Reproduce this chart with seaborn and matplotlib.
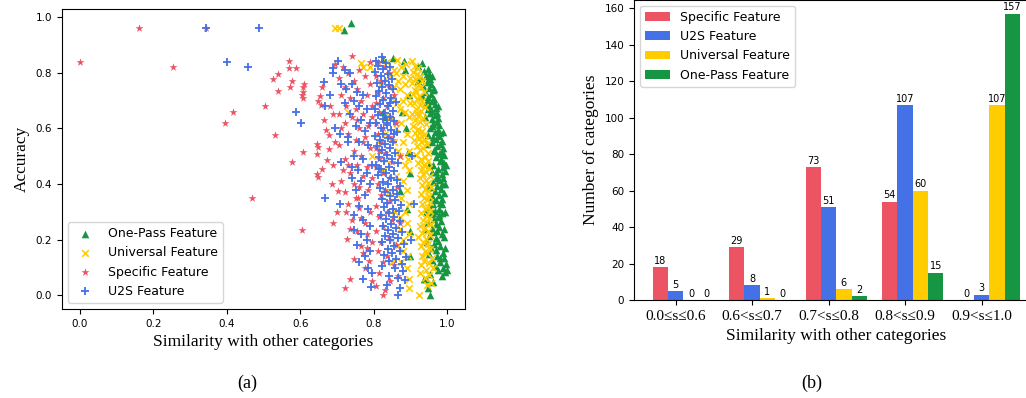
import matplotlib
matplotlib.use("Agg")
import matplotlib.pyplot as plt
import seaborn as sns
import pandas as pd
import numpy as np

# | Colours |-----------------------------------------------------------------|
RED = "#EC5464"
BLUE = "#4571E6"
YELLOW = "#FFCC00"
GREEN = "#169643"
SERIF = ["Liberation Serif", "DejaVu Serif"]

# | Panel (b) data |----------------------------------------------------------|
bins = ["0.0\u2264s\u22640.6", "0.6<s\u22640.7", "0.7<s\u22640.8", "0.8<s\u22640.9", "0.9<s\u22641.0"]
specific_counts = [18, 29, 73, 54, 0]
u2s_counts = [5, 8, 51, 107, 3]
universal_counts = [0, 1, 6, 60, 107]
onepass_counts = [0, 0, 2, 15, 157]

# | Panel (a) data: (similarity, accuracy) |---------------------------------|
onepass_pts = [
    (0.719, 0.955), (0.739, 0.98),
    (0.826, 0.848), (0.851, 0.852), (0.883, 0.842), (0.824, 0.66), (0.83, 0.64),
    (0.872, 0.376), (0.893, 0.515), (0.895, 0.72), (0.887, 0.60), (0.898, 0.44),
    (0.89, 0.31), (0.897, 0.23), (0.885, 0.81), (0.899, 0.14), (0.876, 0.66),
    (0.931, 0.834), (0.921, 0.823), (0.946, 0.812), (0.936, 0.806), (0.951, 0.797),
    (0.941, 0.789), (0.927, 0.781), (0.953, 0.776), (0.944, 0.768), (0.956, 0.759),
    (0.934, 0.752), (0.921, 0.771), (0.949, 0.744), (0.961, 0.737), (0.939, 0.729),
    (0.955, 0.722), (0.946, 0.713), (0.963, 0.706), (0.931, 0.718), (0.958, 0.697),
    (0.967, 0.689), (0.951, 0.681), (0.942, 0.693), (0.969, 0.672), (0.959, 0.664),
    (0.973, 0.657), (0.946, 0.668), (0.966, 0.648), (0.975, 0.639), (0.957, 0.633),
    (0.971, 0.624), (0.962, 0.617), (0.978, 0.611), (0.952, 0.603), (0.974, 0.596),
    (0.966, 0.588), (0.981, 0.583), (0.948, 0.578), (0.977, 0.571), (0.969, 0.563),
    (0.984, 0.556), (0.958, 0.552), (0.981, 0.545), (0.972, 0.537), (0.987, 0.531),
    (0.963, 0.524), (0.985, 0.516), (0.976, 0.508), (0.991, 0.503), (0.968, 0.497),
    (0.983, 0.489), (0.979, 0.482), (0.992, 0.476), (0.962, 0.468), (0.988, 0.461),
    (0.975, 0.455), (0.993, 0.448), (0.959, 0.442), (0.984, 0.437), (0.971, 0.429),
    (0.989, 0.421), (0.977, 0.414), (0.961, 0.407), (0.986, 0.401), (0.972, 0.394),
    (0.953, 0.388), (0.982, 0.381), (0.967, 0.374), (0.991, 0.368), (0.976, 0.361),
    (0.958, 0.355), (0.984, 0.348), (0.969, 0.341), (0.979, 0.333), (0.961, 0.327),
    (0.951, 0.319), (0.977, 0.312), (0.966, 0.304), (0.985, 0.297), (0.956, 0.291),
    (0.974, 0.283), (0.963, 0.276), (0.982, 0.269), (0.948, 0.262), (0.969, 0.255),
    (0.978, 0.247), (0.957, 0.241), (0.973, 0.233), (0.962, 0.226), (0.986, 0.219),
    (0.951, 0.212), (0.969, 0.205), (0.975, 0.197), (0.944, 0.191), (0.963, 0.184),
    (0.979, 0.176), (0.955, 0.169), (0.968, 0.162), (0.988, 0.154), (0.949, 0.147),
    (0.971, 0.141), (0.992, 0.133), (0.958, 0.127), (0.981, 0.12), (0.996, 0.113),
    (0.965, 0.106), (0.989, 0.098), (0.974, 0.091), (0.994, 0.083), (0.952, 0.076),
    (0.986, 0.069), (0.941, 0.058), (0.961, 0.049), (0.948, 0.028), (0.954, 0.0),
    (0.936, 0.06), (0.957, 0.79), (0.947, 0.70), (0.938, 0.64), (0.958, 0.61),
    (0.982, 0.51), (0.995, 0.47), (0.993, 0.40), (0.994, 0.30), (0.991, 0.24),
    (0.993, 0.17), (0.998, 0.09), (0.965, 0.52), (0.97, 0.445), (0.96, 0.35),
    (0.985, 0.33), (0.978, 0.29), (0.99, 0.21), (0.979, 0.135), (0.972, 0.42),
    (0.96, 0.57), (0.964, 0.74), (0.975, 0.68), (0.952, 0.655), (0.944, 0.545),
    (0.951, 0.47), (0.946, 0.39), (0.943, 0.30), (0.938, 0.24), (0.962, 0.296),
    (0.987, 0.587),
]

universal_pts = [
    (0.695, 0.96), (0.704, 0.96), (0.765, 0.836), (0.769, 0.82), (0.73, 0.66), (0.79, 0.82),
    (0.795, 0.5),
    (0.835, 0.84), (0.862, 0.846), (0.875, 0.82), (0.88, 0.79), (0.865, 0.77), (0.855, 0.75),
    (0.87, 0.74), (0.885, 0.76), (0.89, 0.72), (0.878, 0.7), (0.862, 0.69), (0.85, 0.71),
    (0.87, 0.67), (0.885, 0.66), (0.895, 0.64), (0.875, 0.62), (0.86, 0.6), (0.89, 0.58),
    (0.88, 0.55), (0.895, 0.52), (0.833, 0.485), (0.87, 0.5), (0.885, 0.47), (0.895, 0.45),
    (0.86, 0.43), (0.88, 0.41), (0.89, 0.38), (0.875, 0.35), (0.895, 0.33), (0.885, 0.3),
    (0.87, 0.28), (0.89, 0.26), (0.895, 0.22), (0.878, 0.2), (0.865, 0.18), (0.88, 0.16),
    (0.892, 0.14), (0.875, 0.12), (0.89, 0.1), (0.895, 0.06), (0.895, 0.027), (0.85, 0.12),
    (0.84, 0.79), (0.86, 0.8), (0.82, 0.76), (0.845, 0.64), (0.855, 0.55), (0.83, 0.58),
    (0.865, 0.52), (0.84, 0.37), (0.858, 0.3), (0.87, 0.24), (0.848, 0.2), (0.893, 0.49),
    (0.898, 0.69), (0.898, 0.78), (0.888, 0.83), (0.855, 0.81), (0.81, 0.55), (0.825, 0.45),
    (0.905, 0.842), (0.912, 0.825), (0.921, 0.816), (0.907, 0.801), (0.917, 0.794),
    (0.926, 0.787), (0.911, 0.779), (0.932, 0.771), (0.903, 0.763), (0.919, 0.757),
    (0.928, 0.748), (0.913, 0.739), (0.936, 0.731), (0.906, 0.724), (0.923, 0.716),
    (0.917, 0.707), (0.931, 0.699), (0.909, 0.691), (0.925, 0.684), (0.938, 0.676),
    (0.914, 0.668), (0.929, 0.661), (0.904, 0.653), (0.921, 0.645), (0.934, 0.638),
    (0.912, 0.629), (0.926, 0.622), (0.941, 0.614), (0.907, 0.607), (0.919, 0.599),
    (0.931, 0.591), (0.913, 0.583), (0.936, 0.576), (0.924, 0.567), (0.909, 0.559),
    (0.929, 0.552), (0.944, 0.544), (0.917, 0.537), (0.933, 0.528), (0.926, 0.521),
    (0.946, 0.513), (0.915, 0.506), (0.938, 0.498), (0.929, 0.49), (0.948, 0.483),
    (0.921, 0.476), (0.936, 0.467), (0.951, 0.459), (0.927, 0.452), (0.943, 0.444),
    (0.933, 0.437), (0.952, 0.428), (0.925, 0.421), (0.941, 0.413), (0.948, 0.405),
    (0.931, 0.397), (0.955, 0.389), (0.939, 0.382), (0.946, 0.374), (0.928, 0.366),
    (0.951, 0.358), (0.937, 0.351), (0.944, 0.343), (0.953, 0.335), (0.932, 0.328),
    (0.947, 0.319), (0.938, 0.311), (0.952, 0.303), (0.928, 0.296), (0.944, 0.288),
    (0.949, 0.279), (0.934, 0.272), (0.942, 0.263), (0.955, 0.256), (0.926, 0.248),
    (0.939, 0.241), (0.948, 0.232), (0.931, 0.224), (0.953, 0.217), (0.921, 0.208),
    (0.941, 0.201), (0.934, 0.192), (0.947, 0.184), (0.927, 0.176), (0.952, 0.168),
    (0.938, 0.16), (0.945, 0.151), (0.932, 0.142), (0.957, 0.134), (0.936, 0.125),
    (0.949, 0.117), (0.928, 0.108), (0.961, 0.1), (0.943, 0.091), (0.925, 0.082),
    (0.951, 0.073), (0.938, 0.062), (0.956, 0.046), (0.922, 0.002), (0.945, 0.038),
    (0.915, 0.73), (0.918, 0.655), (0.922, 0.585), (0.935, 0.47), (0.94, 0.56),
]

specific_pts = [
    (0.0, 0.84), (0.16, 0.96), (0.342, 0.96), (0.2525, 0.82), (0.396, 0.62), (0.416, 0.66),
    (0.503, 0.68), (0.531, 0.575), (0.468, 0.35), (0.577, 0.48), (0.539, 0.733), (0.526, 0.778),
    (0.538, 0.797), (0.57, 0.841), (0.569, 0.818), (0.589, 0.816), (0.576, 0.77), (0.572, 0.749),
    (0.604, 0.236), (0.608, 0.515), (0.607, 0.71), (0.607, 0.73), (0.607, 0.75), (0.61, 0.76),
    (0.605, 0.72), (0.644, 0.545), (0.648, 0.533), (0.644, 0.509), (0.645, 0.436), (0.648, 0.424),
    (0.66, 0.453), (0.689, 0.26), (0.652, 0.715), (0.649, 0.70), (0.655, 0.684), (0.67, 0.594),
    (0.677, 0.576), (0.677, 0.527), (0.671, 0.487), (0.69, 0.65), (0.695, 0.83), (0.68, 0.68),
    (0.665, 0.63), (0.685, 0.40), (0.695, 0.55), (0.66, 0.75), (0.69, 0.47),
    (0.722, 0.028), (0.736, 0.058), (0.702, 0.376), (0.722, 0.373), (0.728, 0.202), (0.764, 0.178),
    (0.771, 0.151), (0.781, 0.169), (0.786, 0.124), (0.75, 0.35), (0.758, 0.351), (0.759, 0.315),
    (0.766, 0.279), (0.74, 0.86), (0.715, 0.82), (0.73, 0.80), (0.76, 0.81), (0.705, 0.78),
    (0.745, 0.77), (0.775, 0.79), (0.72, 0.75), (0.755, 0.74), (0.79, 0.76), (0.71, 0.72),
    (0.735, 0.71), (0.765, 0.7), (0.78, 0.72), (0.725, 0.68), (0.75, 0.67), (0.795, 0.68),
    (0.705, 0.65), (0.74, 0.64), (0.77, 0.65), (0.72, 0.62), (0.76, 0.6), (0.785, 0.61),
    (0.73, 0.58), (0.75, 0.56), (0.775, 0.57), (0.705, 0.54), (0.745, 0.52), (0.765, 0.5),
    (0.79, 0.53), (0.72, 0.49), (0.755, 0.47), (0.78, 0.46), (0.735, 0.44), (0.77, 0.43),
    (0.795, 0.42), (0.71, 0.41), (0.745, 0.4), (0.76, 0.39), (0.785, 0.38), (0.725, 0.3),
    (0.74, 0.27), (0.775, 0.26), (0.79, 0.3), (0.735, 0.24), (0.755, 0.23), (0.78, 0.22),
    (0.795, 0.19), (0.745, 0.13), (0.775, 0.1), (0.795, 0.05), (0.73, 0.33), (0.7, 0.3),
    (0.715, 0.45), (0.79, 0.84), (0.77, 0.55), (0.73, 0.47), (0.795, 0.64), (0.755, 0.63),
    (0.71, 0.6),
    (0.824, 0.0), (0.81, 0.84), (0.83, 0.82), (0.805, 0.79), (0.82, 0.77), (0.84, 0.75),
    (0.81, 0.73), (0.825, 0.71), (0.805, 0.69), (0.835, 0.68), (0.815, 0.66), (0.845, 0.64),
    (0.805, 0.62), (0.825, 0.6), (0.81, 0.58), (0.84, 0.57), (0.82, 0.55), (0.805, 0.53),
    (0.83, 0.51), (0.815, 0.49), (0.85, 0.48), (0.805, 0.46), (0.825, 0.44), (0.84, 0.42),
    (0.81, 0.4), (0.83, 0.38), (0.82, 0.36), (0.845, 0.34), (0.805, 0.32), (0.835, 0.3),
    (0.815, 0.28), (0.85, 0.27), (0.825, 0.25), (0.805, 0.23), (0.84, 0.21), (0.82, 0.19),
    (0.86, 0.18), (0.81, 0.16), (0.835, 0.14), (0.825, 0.12), (0.855, 0.11), (0.815, 0.08),
    (0.865, 0.07), (0.845, 0.05), (0.805, 0.035), (0.83, 0.02), (0.87, 0.26), (0.85, 0.56),
    (0.862, 0.39), (0.86, 0.62), (0.87, 0.5), (0.855, 0.72), (0.84, 0.8), (0.815, 0.52),
]

u2s_pts = [
    (0.342, 0.96), (0.4875, 0.96), (0.399, 0.84), (0.456, 0.82), (0.588, 0.658),
    (0.602, 0.618), (0.666, 0.349), (0.665, 0.768), (0.689, 0.818), (0.666, 0.68), (0.69, 0.80),
    (0.68, 0.72), (0.695, 0.60),
    (0.701, 0.842), (0.72, 0.81), (0.735, 0.80), (0.71, 0.76), (0.74, 0.76), (0.725, 0.74),
    (0.755, 0.73), (0.77, 0.72), (0.745, 0.70), (0.72, 0.69), (0.76, 0.68), (0.78, 0.67),
    (0.735, 0.65), (0.708, 0.58), (0.765, 0.63), (0.79, 0.62), (0.75, 0.61), (0.775, 0.59),
    (0.73, 0.57), (0.76, 0.55), (0.785, 0.54), (0.711, 0.48), (0.745, 0.5), (0.77, 0.49),
    (0.795, 0.47), (0.758, 0.45), (0.78, 0.44), (0.74, 0.42), (0.765, 0.41), (0.79, 0.4),
    (0.75, 0.38), (0.775, 0.36), (0.708, 0.33), (0.76, 0.32), (0.785, 0.31), (0.745, 0.29),
    (0.77, 0.27), (0.79, 0.25), (0.747, 0.235), (0.765, 0.22), (0.78, 0.2), (0.755, 0.18),
    (0.79, 0.16), (0.775, 0.14), (0.76, 0.12), (0.785, 0.1), (0.795, 0.08), (0.77, 0.06),
    (0.793, 0.03), (0.73, 0.55), (0.74, 0.46),
    (0.821, 0.858), (0.806, 0.843), (0.832, 0.836), (0.812, 0.824), (0.843, 0.819),
    (0.826, 0.812), (0.803, 0.801), (0.837, 0.796), (0.818, 0.787), (0.848, 0.779),
    (0.829, 0.771), (0.808, 0.762), (0.841, 0.756), (0.821, 0.748), (0.853, 0.741),
    (0.814, 0.733), (0.834, 0.726), (0.806, 0.717), (0.846, 0.709), (0.825, 0.702),
    (0.861, 0.694), (0.816, 0.687), (0.838, 0.679), (0.803, 0.671), (0.851, 0.663),
    (0.829, 0.656), (0.812, 0.648), (0.843, 0.641), (0.824, 0.633), (0.856, 0.626),
    (0.807, 0.618), (0.835, 0.611), (0.818, 0.603), (0.847, 0.596), (0.863, 0.588),
    (0.826, 0.581), (0.804, 0.574), (0.839, 0.566), (0.816, 0.559), (0.852, 0.551),
    (0.831, 0.544), (0.809, 0.536), (0.844, 0.528), (0.822, 0.521), (0.858, 0.513),
    (0.836, 0.506), (0.813, 0.498), (0.849, 0.491), (0.827, 0.483), (0.866, 0.476),
    (0.805, 0.468), (0.841, 0.461), (0.819, 0.453), (0.855, 0.446), (0.833, 0.438),
    (0.811, 0.431), (0.846, 0.423), (0.862, 0.416), (0.824, 0.408), (0.839, 0.401),
    (0.871, 0.393), (0.816, 0.386), (0.852, 0.378), (0.831, 0.371), (0.864, 0.363),
    (0.845, 0.356), (0.822, 0.348), (0.858, 0.341), (0.836, 0.333), (0.873, 0.326),
    (0.828, 0.318), (0.851, 0.311), (0.867, 0.303), (0.841, 0.296), (0.819, 0.288),
    (0.856, 0.281), (0.834, 0.273), (0.872, 0.266), (0.846, 0.258), (0.826, 0.251),
    (0.861, 0.243), (0.839, 0.236), (0.876, 0.228), (0.851, 0.221), (0.831, 0.213),
    (0.866, 0.206), (0.844, 0.198), (0.822, 0.191), (0.881, 0.183), (0.856, 0.176),
    (0.838, 0.168), (0.871, 0.161), (0.848, 0.153), (0.828, 0.146), (0.886, 0.138),
    (0.861, 0.131), (0.842, 0.122), (0.876, 0.114), (0.821, 0.106), (0.857, 0.098),
    (0.879, 0.089), (0.841, 0.071), (0.866, 0.062), (0.884, 0.054), (0.836, 0.036),
    (0.871, 0.027), (0.865, 0.0), (0.815, 0.455), (0.835, 0.62), (0.845, 0.69),
    (0.855, 0.58),
    (0.905, 0.5), (0.91, 0.33), (0.902, 0.2),
]


def to_frame(pts):
    return pd.DataFrame(pts, columns=["sim", "acc"])


fig = plt.figure(figsize=(10.26, 3.98), dpi=100)
ax_a = fig.add_axes([0.0601, 0.2236, 0.3931, 0.7538])
ax_b = fig.add_axes([0.6179, 0.2462, 0.3940, 0.7550])

# | (a) scatter |--------------------------------------------------------------|
series = [
    ("One-Pass Feature", to_frame(onepass_pts), GREEN, "^", 30, 0),
    ("Universal Feature", to_frame(universal_pts), YELLOW, "x", 22, 1.2),
    ("Specific Feature", to_frame(specific_pts), RED, "*", 36, 0),
    ("U2S Feature", to_frame(u2s_pts), BLUE, "+", 28, 1.3),
]
for label, df, color, marker, size, lw in series:
    sns.scatterplot(data=df, x="sim", y="acc", ax=ax_a, color=color, marker=marker,
                    s=size, linewidth=lw, label=label)

ax_a.set_xticks([0.0, 0.2, 0.4, 0.6, 0.8, 1.0])
ax_a.set_yticks([0.0, 0.2, 0.4, 0.6, 0.8, 1.0])
ax_a.tick_params(labelsize=7.5)
ax_a.set_xlabel("Similarity with other categories", fontsize=12.5, family=SERIF)
ax_a.set_ylabel("Accuracy", fontsize=12.5, family=SERIF)
ax_a.legend(loc="lower left", fontsize=9)

# | (b) grouped bars |---------------------------------------------------------|
bar_df = pd.DataFrame({
    "bin": bins * 4,
    "count": specific_counts + u2s_counts + universal_counts + onepass_counts,
    "feature": (["Specific Feature"] * 5 + ["U2S Feature"] * 5
                + ["Universal Feature"] * 5 + ["One-Pass Feature"] * 5),
})
sns.barplot(data=bar_df, x="bin", y="count", hue="feature", ax=ax_b,
            palette=[RED, BLUE, YELLOW, GREEN], saturation=1, width=0.8, errorbar=None)
for cont in ax_b.containers:
    ax_b.bar_label(cont, fontsize=7, padding=1)

ax_b.set_xticks(np.arange(len(bins)) - 0.1)
ax_b.set_xticklabels(bins, fontsize=11, family=SERIF)
ax_b.set_xlim(-0.645, 4.64)
ax_b.set_ylim(0, 164.85)
ax_b.tick_params(axis="y", labelsize=7.5)
ax_b.set_xlabel("Similarity with other categories", fontsize=12.5, family=SERIF)
ax_b.set_ylabel("Number of categories", fontsize=12.5, family=SERIF)
ax_b.legend(loc="upper left", fontsize=9, title=None)

fig.text(247 / 1026, 1 - 383 / 398, "(a)", ha="center", va="center", fontsize=13, family=SERIF)
fig.text(812 / 1026, 1 - 383 / 398, "(b)", ha="center", va="center", fontsize=13, family=SERIF)

fig.savefig("out.png", dpi=100)
